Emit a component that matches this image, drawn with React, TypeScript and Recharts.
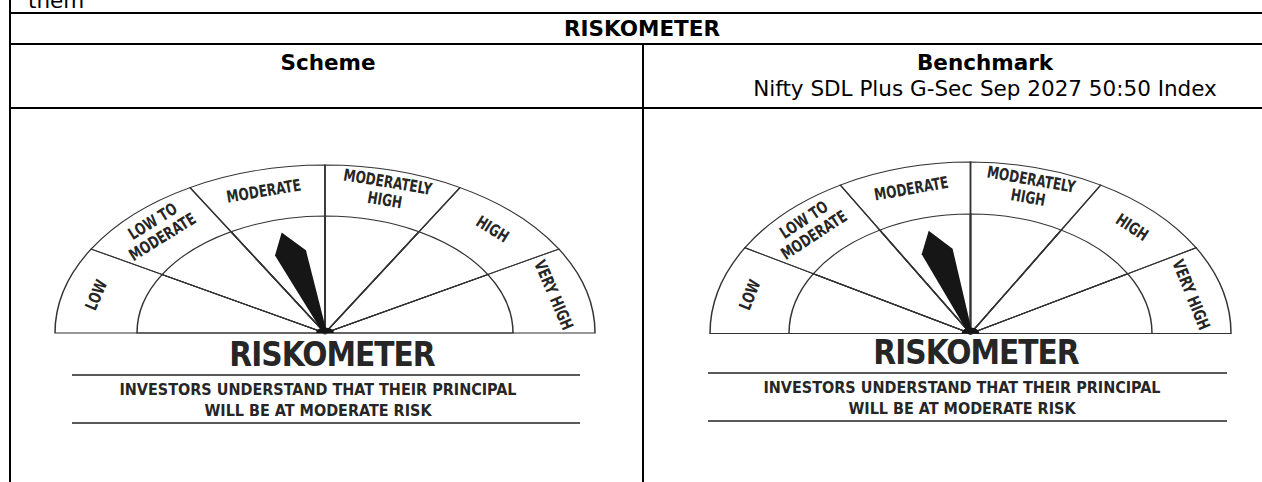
import React from "react";
import { PieChart, Pie } from "recharts";

// Riskometer table: two gauges (scheme + benchmark), six equal risk bands each.

const riskLevels = ["LOW", "LOW TO|MODERATE", "MODERATE", "MODERATELY|HIGH", "HIGH", "VERY HIGH"];
const bandWeights = [1, 1, 1, 1, 1, 1];
const schemeLevel = "MODERATE";
const benchmarkLevel = "MODERATE";
const headerTitle = "RISKOMETER";
const columnTitles = ["Scheme", "Benchmark"];
const benchmarkName = "Nifty SDL Plus G-Sec Sep 2027 50:50 Index";
const riskNote = ["INVESTORS UNDERSTAND THAT THEIR PRINCIPAL", "WILL BE AT MODERATE RISK"];

const bands = riskLevels.map((name, i) => ({ name, value: bandWeights[i] }));

const FONT = "'DejaVu Sans', Verdana, sans-serif";
const COND = "'DejaVu Sans Condensed', 'DejaVu Sans', sans-serif";
const INK = "#262626";

const makeLabel = (inner: number, squash: number) => (props: any) => {
  const { cx, cy, midAngle, outerRadius, index } = props;
  const r = inner + (outerRadius - inner) * 0.6;
  const rad = (midAngle * Math.PI) / 180;
  const x = cx + r * Math.cos(rad);
  const y = cy - r * Math.sin(rad);
  const rot = (Math.atan2(squash * Math.cos(rad), Math.sin(rad)) * 180) / Math.PI;
  const lines = riskLevels[index].split("|");
  const lh = 15;
  return (
    <text
      key={`lbl-${index}`}
      transform={`translate(${x},${y}) scale(1,${1 / squash}) rotate(${rot}) scale(1,1.22)`}
      textAnchor="middle"
      fontFamily={COND}
      fontStretch="condensed"
      fontWeight="bold"
      fontSize={13.5}
      fill={INK}
    >
      {lines.map((t, i) => (
        <tspan key={i} x={0} y={(i - (lines.length - 1) / 2) * lh + 5}>
          {t}
        </tspan>
      ))}
    </text>
  );
};

// needle is drawn as the label of the small hub pie, so it shares the pie's centre
const makeNeedle = (level: string, inner: number) => (props: any) => {
  const { cx, cy } = props;
  const idx = riskLevels.indexOf(level);
  const step = 180 / riskLevels.length;
  const a = ((180 - (idx + 0.5) * step) * Math.PI) / 180;
  const dir = [Math.cos(a), -Math.sin(a)];
  const perp = [Math.sin(a), Math.cos(a)];
  const pt = (r: number, w: number) => `${cx + dir[0] * r + perp[0] * w},${cy + dir[1] * r + perp[1] * w}`;
  const shoulder = inner * 0.71;
  const tip = inner * 0.89;
  return (
    <polygon
      key="needle"
      points={[pt(0, -2), pt(shoulder, -16), pt(tip, 0), pt(shoulder, 16), pt(0, 2)].join(" ")}
      fill="#161616"
    />
  );
};

function Gauge({
  centerX,
  centerY,
  outer,
  inner,
  squash,
  level,
}: {
  centerX: number;
  centerY: number;
  outer: number;
  inner: number;
  squash: number;
  level: string;
}) {
  const W = Math.round(outer * 2 + 20);
  const H = Math.round(outer + 20);
  const cx = W / 2;
  const cy = outer + 10;
  return (
    <div
      style={{
        position: "absolute",
        left: centerX - cx,
        top: centerY - cy,
        width: W,
        height: H,
        transform: `scaleY(${squash})`,
        transformOrigin: `${cx}px ${cy}px`,
      }}
    >
      <PieChart width={W} height={H} margin={{ top: 0, right: 0, bottom: 0, left: 0 }}>
        <Pie
          data={bands}
          dataKey="value"
          cx={cx}
          cy={cy}
          startAngle={180}
          endAngle={0}
          innerRadius={0}
          outerRadius={outer}
          fill="none"
          stroke="#333"
          strokeWidth={1.5}
          label={makeLabel(inner, squash)}
          labelLine={false}
          isAnimationActive={false}
        />
        <Pie
          data={bands}
          dataKey="value"
          cx={cx}
          cy={cy}
          startAngle={180}
          endAngle={0}
          innerRadius={0}
          outerRadius={inner}
          fill="none"
          stroke="#333"
          strokeWidth={1.5}
          isAnimationActive={false}
        />
        <Pie
          data={[{ value: 1 }]}
          dataKey="value"
          cx={cx}
          cy={cy}
          startAngle={180}
          endAngle={0}
          outerRadius={9}
          fill="#161616"
          stroke="none"
          label={makeNeedle(level, inner)}
          labelLine={false}
          isAnimationActive={false}
        />
      </PieChart>
    </div>
  );
}

function Caption({ x, x1, x2, lineY }: { x: number; x1: number; x2: number; lineY: number }) {
  return (
    <g>
      <text x={x + 14} y={lineY - 8} textAnchor="middle" fontFamily={COND} fontStretch="condensed" fontWeight="bold" fontSize={33} letterSpacing={-1} fill={INK}>
        RISKOMETER
      </text>
      <rect x={x1} y={lineY} width={x2 - x1} height={2} fill="#5a5a5a" />
      <text x={x} y={lineY + 21} textAnchor="middle" fontFamily={COND} fontStretch="condensed" fontWeight="bold" fontSize={16} fill={INK}>
        {riskNote[0]}
      </text>
      <text x={x} y={lineY + 42} textAnchor="middle" fontFamily={COND} fontStretch="condensed" fontWeight="bold" fontSize={16} fill={INK}>
        {riskNote[1]}
      </text>
      <rect x={x1} y={lineY + 48} width={x2 - x1} height={2} fill="#5a5a5a" />
    </g>
  );
}

export default function App() {
  return (
    <div style={{ position: "fixed", left: 0, top: 0, width: 1262, height: 482, background: "#fff", overflow: "hidden" }}>
      <svg width={1262} height={482} style={{ position: "absolute", left: 0, top: 0 }}>
        <text x={28} y={8} fontFamily={FONT} fontSize={21.5} fill="#000">
          them
        </text>
        <rect x={9} y={0} width={2} height={482} fill="#000" />
        <rect x={9} y={12} width={1253} height={2} fill="#000" />
        <rect x={9} y={43} width={1253} height={2} fill="#000" />
        <rect x={9} y={107} width={1253} height={2} fill="#000" />
        <rect x={642} y={43} width={2} height={439} fill="#000" />
        <text x={642} y={36} textAnchor="middle" fontFamily={FONT} fontWeight="bold" fontSize={21.5} fill="#000">
          {headerTitle}
        </text>
        <text x={328} y={70} textAnchor="middle" fontFamily={FONT} fontWeight="bold" fontSize={21.5} fill="#000">
          {columnTitles[0]}
        </text>
        <text x={985} y={70} textAnchor="middle" fontFamily={FONT} fontWeight="bold" fontSize={21.5} fill="#000">
          {columnTitles[1]}
        </text>
        <text x={985} y={96} textAnchor="middle" fontFamily={FONT} fontSize={21.5} fill="#000">
          {benchmarkName}
        </text>
        <Caption x={318} x1={72} x2={580} lineY={374} />
        <Caption x={962} x1={708} x2={1227} lineY={372} />
      </svg>
      <Gauge centerX={325} centerY={333} outer={270} inner={188} squash={0.622} level={schemeLevel} />
      <Gauge centerX={970} centerY={333} outer={260.5} inner={181.5} squash={0.658} level={benchmarkLevel} />
    </div>
  );
}
